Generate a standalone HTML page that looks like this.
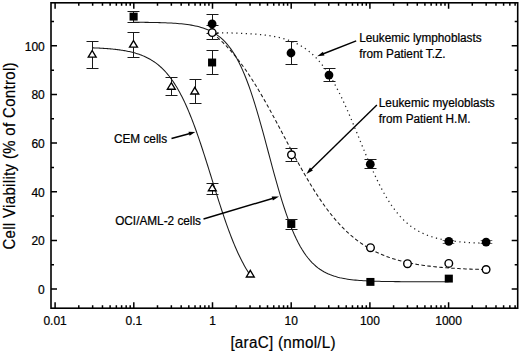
<!DOCTYPE html>
<html><head><meta charset="utf-8"><style>
html,body{margin:0;padding:0;background:#fff;width:520px;height:352px;overflow:hidden}
svg{display:block}
text{font-family:"Liberation Sans",sans-serif;fill:#000;stroke:#000;stroke-width:0.22px}
</style></head><body>
<svg width="520" height="352" viewBox="0 0 520 352">
<rect x="51.0" y="2.8" width="466.70000000000005" height="305.4" fill="none" stroke="#000" stroke-width="1.6"/><path d="M55.10,308.2v-6M55.10,2.8v6M78.79,308.2v-3M78.79,2.8v3M92.65,308.2v-3M92.65,2.8v3M102.48,308.2v-3M102.48,2.8v3M110.11,308.2v-3M110.11,2.8v3M116.34,308.2v-3M116.34,2.8v3M121.61,308.2v-3M121.61,2.8v3M126.17,308.2v-3M126.17,2.8v3M130.20,308.2v-3M130.20,2.8v3M133.80,308.2v-6M133.80,2.8v6M157.49,308.2v-3M157.49,2.8v3M171.35,308.2v-3M171.35,2.8v3M181.18,308.2v-3M181.18,2.8v3M188.81,308.2v-3M188.81,2.8v3M195.04,308.2v-3M195.04,2.8v3M200.31,308.2v-3M200.31,2.8v3M204.87,308.2v-3M204.87,2.8v3M208.90,308.2v-3M208.90,2.8v3M212.50,308.2v-6M212.50,2.8v6M236.19,308.2v-3M236.19,2.8v3M250.05,308.2v-3M250.05,2.8v3M259.88,308.2v-3M259.88,2.8v3M267.51,308.2v-3M267.51,2.8v3M273.74,308.2v-3M273.74,2.8v3M279.01,308.2v-3M279.01,2.8v3M283.57,308.2v-3M283.57,2.8v3M287.60,308.2v-3M287.60,2.8v3M291.20,308.2v-6M291.20,2.8v6M314.89,308.2v-3M314.89,2.8v3M328.75,308.2v-3M328.75,2.8v3M338.58,308.2v-3M338.58,2.8v3M346.21,308.2v-3M346.21,2.8v3M352.44,308.2v-3M352.44,2.8v3M357.71,308.2v-3M357.71,2.8v3M362.27,308.2v-3M362.27,2.8v3M366.30,308.2v-3M366.30,2.8v3M369.90,308.2v-6M369.90,2.8v6M393.59,308.2v-3M393.59,2.8v3M407.45,308.2v-3M407.45,2.8v3M417.28,308.2v-3M417.28,2.8v3M424.91,308.2v-3M424.91,2.8v3M431.14,308.2v-3M431.14,2.8v3M436.41,308.2v-3M436.41,2.8v3M440.97,308.2v-3M440.97,2.8v3M445.00,308.2v-3M445.00,2.8v3M448.60,308.2v-6M448.60,2.8v6M472.29,308.2v-3M472.29,2.8v3M486.15,308.2v-3M486.15,2.8v3M495.98,308.2v-3M495.98,2.8v3M503.61,308.2v-3M503.61,2.8v3M509.84,308.2v-3M509.84,2.8v3M515.11,308.2v-3M515.11,2.8v3M51.0,289.10h6M517.7,289.10h-6M51.0,264.77h3M517.7,264.77h-3M51.0,240.44h6M517.7,240.44h-6M51.0,216.11h3M517.7,216.11h-3M51.0,191.78h6M517.7,191.78h-6M51.0,167.45h3M517.7,167.45h-3M51.0,143.12h6M517.7,143.12h-6M51.0,118.79h3M517.7,118.79h-3M51.0,94.46h6M517.7,94.46h-6M51.0,70.13h3M517.7,70.13h-3M51.0,45.80h6M517.7,45.80h-6M51.0,21.47h3M517.7,21.47h-3" stroke="#000" stroke-width="1.5" fill="none"/><g font-size="12"><text x="55.10" y="324.6" text-anchor="middle">0.01</text><text x="133.80" y="324.6" text-anchor="middle">0.1</text><text x="212.50" y="324.6" text-anchor="middle">1</text><text x="291.20" y="324.6" text-anchor="middle">10</text><text x="369.90" y="324.6" text-anchor="middle">100</text><text x="448.60" y="324.6" text-anchor="middle">1000</text><text x="44.8" y="294.10" text-anchor="end">0</text><text x="44.8" y="245.44" text-anchor="end">20</text><text x="44.8" y="196.78" text-anchor="end">40</text><text x="44.8" y="148.12" text-anchor="end">60</text><text x="44.8" y="99.46" text-anchor="end">80</text><text x="44.8" y="50.80" text-anchor="end">100</text></g><text transform="translate(283.0,348.2) scale(0.93,1)" font-size="16.4" text-anchor="middle" textLength="113.2" lengthAdjust="spacing">[araC] (nmol/L)</text><text transform="translate(14.7,156) rotate(-90) scale(0.9,1)" font-size="16.6" text-anchor="middle" textLength="208" lengthAdjust="spacing">Cell Viability (% of Control)</text><path d="M92.65,47.82 L93.64,47.86 L94.63,47.90 L95.62,47.94 L96.61,47.99 L97.60,48.03 L98.59,48.08 L99.58,48.13 L100.57,48.18 L101.56,48.24 L102.55,48.30 L103.54,48.36 L104.53,48.42 L105.52,48.49 L106.51,48.56 L107.50,48.64 L108.49,48.71 L109.48,48.80 L110.47,48.88 L111.46,48.97 L112.45,49.07 L113.44,49.17 L114.43,49.27 L115.42,49.38 L116.41,49.49 L117.40,49.61 L118.39,49.74 L119.38,49.87 L120.37,50.01 L121.36,50.15 L122.35,50.31 L123.34,50.47 L124.33,50.63 L125.32,50.81 L126.31,50.99 L127.30,51.19 L128.29,51.39 L129.28,51.60 L130.27,51.82 L131.26,52.05 L132.25,52.30 L133.24,52.55 L134.23,52.82 L135.22,53.10 L136.21,53.39 L137.20,53.70 L138.19,54.02 L139.18,54.36 L140.17,54.71 L141.16,55.08 L142.15,55.47 L143.14,55.87 L144.13,56.30 L145.12,56.74 L146.11,57.20 L147.10,57.69 L148.09,58.19 L149.08,58.72 L150.07,59.28 L151.06,59.85 L152.05,60.46 L153.04,61.09 L154.03,61.75 L155.02,62.44 L156.01,63.16 L157.00,63.90 L157.99,64.69 L158.98,65.50 L159.97,66.35 L160.96,67.24 L161.95,68.16 L162.93,69.12 L163.92,70.13 L164.91,71.17 L165.90,72.25 L166.89,73.38 L167.88,74.55 L168.87,75.77 L169.86,77.04 L170.85,78.35 L171.84,79.71 L172.83,81.13 L173.82,82.59 L174.81,84.11 L175.80,85.68 L176.79,87.31 L177.78,89.00 L178.77,90.73 L179.76,92.53 L180.75,94.39 L181.74,96.30 L182.73,98.27 L183.72,100.30 L184.71,102.39 L185.70,104.54 L186.69,106.75 L187.68,109.02 L188.67,111.35 L189.66,113.74 L190.65,116.18 L191.64,118.68 L192.63,121.24 L193.62,123.85 L194.61,126.51 L195.60,129.23 L196.59,131.99 L197.58,134.81 L198.57,137.67 L199.56,140.57 L200.55,143.51 L201.54,146.49 L202.53,149.51 L203.52,152.56 L204.51,155.64 L205.50,158.74 L206.49,161.87 L207.48,165.01 L208.47,168.17 L209.46,171.34 L210.45,174.52 L211.44,177.71 L212.43,180.90 L213.42,184.08 L214.41,187.25 L215.40,190.42 L216.39,193.57 L217.38,196.70 L218.37,199.82 L219.36,202.90 L220.35,205.96 L221.34,208.99 L222.33,211.99 L223.32,214.94 L224.31,217.86 L225.30,220.73 L226.29,223.56 L227.28,226.35 L228.27,229.08 L229.26,231.76 L230.25,234.39 L231.24,236.97 L232.23,239.49 L233.22,241.96 L234.21,244.36 L235.20,246.71 L236.19,249.00 L237.18,251.23 L238.17,253.41 L239.16,255.52 L240.15,257.57 L241.14,259.56 L242.13,261.50 L243.12,263.37 L244.11,265.19 L245.10,266.95 L246.09,268.65 L247.08,270.30 L248.07,271.89 L249.06,273.43 L250.05,274.92" stroke="#1a1a1a" stroke-width="1.05" fill="none"/><path d="M133.80,22.25 L135.78,22.26 L137.76,22.28 L139.74,22.30 L141.72,22.31 L143.70,22.34 L145.68,22.36 L147.66,22.39 L149.64,22.42 L151.62,22.45 L153.60,22.49 L155.58,22.53 L157.56,22.57 L159.54,22.63 L161.52,22.68 L163.50,22.75 L165.48,22.82 L167.46,22.91 L169.44,23.00 L171.42,23.10 L173.40,23.22 L175.38,23.35 L177.36,23.49 L179.34,23.66 L181.32,23.84 L183.30,24.04 L185.28,24.27 L187.26,24.53 L189.24,24.81 L191.22,25.13 L193.20,25.49 L195.18,25.89 L197.16,26.34 L199.14,26.84 L201.12,27.39 L203.10,28.01 L205.08,28.71 L207.06,29.48 L209.04,30.34 L211.02,31.30 L212.99,32.37 L214.97,33.55 L216.95,34.87 L218.93,36.32 L220.91,37.94 L222.89,39.72 L224.87,41.69 L226.85,43.86 L228.83,46.25 L230.81,48.87 L232.79,51.74 L234.77,54.88 L236.75,58.29 L238.73,62.00 L240.71,66.01 L242.69,70.34 L244.67,75.00 L246.65,79.97 L248.63,85.28 L250.61,90.90 L252.59,96.84 L254.57,103.07 L256.55,109.57 L258.53,116.32 L260.51,123.29 L262.49,130.44 L264.47,137.72 L266.45,145.09 L268.43,152.51 L270.41,159.92 L272.39,167.28 L274.37,174.55 L276.35,181.67 L278.33,188.61 L280.31,195.32 L282.29,201.79 L284.27,207.98 L286.25,213.87 L288.23,219.44 L290.21,224.70 L292.19,229.63 L294.17,234.23 L296.15,238.52 L298.13,242.48 L300.11,246.15 L302.09,249.52 L304.07,252.61 L306.05,255.45 L308.03,258.03 L310.01,260.39 L311.99,262.53 L313.97,264.47 L315.95,266.23 L317.93,267.82 L319.91,269.25 L321.89,270.55 L323.87,271.72 L325.85,272.76 L327.83,273.71 L329.81,274.56 L331.79,275.32 L333.77,276.00 L335.75,276.61 L337.73,277.16 L339.71,277.65 L341.69,278.09 L343.67,278.48 L345.65,278.84 L347.63,279.15 L349.61,279.43 L351.59,279.68 L353.57,279.91 L355.55,280.11 L357.53,280.29 L359.51,280.45 L361.49,280.59 L363.47,280.72 L365.45,280.83 L367.43,280.93 L369.41,281.02 L371.38,281.11 L373.36,281.18 L375.34,281.24 L377.32,281.30 L379.30,281.35 L381.28,281.40 L383.26,281.44 L385.24,281.47 L387.22,281.51 L389.20,281.54 L391.18,281.56 L393.16,281.59 L395.14,281.61 L397.12,281.62 L399.10,281.64 L401.08,281.66 L403.06,281.67 L405.04,281.68 L407.02,281.69 L409.00,281.70 L410.98,281.71 L412.96,281.72 L414.94,281.72 L416.92,281.73 L418.90,281.73 L420.88,281.74 L422.86,281.74 L424.84,281.75 L426.82,281.75 L428.80,281.75 L430.78,281.75 L432.76,281.76 L434.74,281.76 L436.72,281.76 L438.70,281.76 L440.68,281.76 L442.66,281.77 L444.64,281.77 L446.62,281.77 L448.60,281.77" stroke="#1a1a1a" stroke-width="1.05" fill="none"/><path d="M212.50,33.42 L214.22,34.80 L215.94,36.23 L217.66,37.71 L219.38,39.25 L221.11,40.84 L222.83,42.49 L224.55,44.19 L226.27,45.95 L227.99,47.77 L229.71,49.65 L231.43,51.59 L233.15,53.59 L234.87,55.65 L236.59,57.77 L238.32,59.96 L240.04,62.20 L241.76,64.51 L243.48,66.87 L245.20,69.30 L246.92,71.78 L248.64,74.32 L250.36,76.92 L252.08,79.58 L253.81,82.29 L255.53,85.06 L257.25,87.88 L258.97,90.74 L260.69,93.66 L262.41,96.62 L264.13,99.62 L265.85,102.66 L267.57,105.74 L269.30,108.86 L271.02,112.00 L272.74,115.17 L274.46,118.37 L276.18,121.59 L277.90,124.82 L279.62,128.07 L281.34,131.33 L283.06,134.59 L284.78,137.85 L286.51,141.12 L288.23,144.37 L289.95,147.62 L291.67,150.85 L293.39,154.07 L295.11,157.27 L296.83,160.44 L298.55,163.58 L300.27,166.69 L302.00,169.77 L303.72,172.81 L305.44,175.82 L307.16,178.77 L308.88,181.69 L310.60,184.55 L312.32,187.37 L314.04,190.13 L315.76,192.84 L317.49,195.50 L319.21,198.10 L320.93,200.64 L322.65,203.12 L324.37,205.55 L326.09,207.91 L327.81,210.22 L329.53,212.46 L331.25,214.64 L332.97,216.76 L334.70,218.82 L336.42,220.82 L338.14,222.75 L339.86,224.63 L341.58,226.45 L343.30,228.21 L345.02,229.91 L346.74,231.56 L348.46,233.15 L350.19,234.69 L351.91,236.17 L353.63,237.60 L355.35,238.97 L357.07,240.30 L358.79,241.58 L360.51,242.81 L362.23,243.99 L363.95,245.13 L365.67,246.23 L367.40,247.28 L369.12,248.29 L370.84,249.26 L372.56,250.19 L374.28,251.08 L376.00,251.94 L377.72,252.76 L379.44,253.55 L381.16,254.30 L382.89,255.03 L384.61,255.72 L386.33,256.38 L388.05,257.02 L389.77,257.63 L391.49,258.21 L393.21,258.77 L394.93,259.30 L396.65,259.81 L398.38,260.30 L400.10,260.76 L401.82,261.21 L403.54,261.63 L405.26,262.04 L406.98,262.43 L408.70,262.80 L410.42,263.15 L412.14,263.49 L413.86,263.81 L415.59,264.12 L417.31,264.42 L419.03,264.70 L420.75,264.97 L422.47,265.22 L424.19,265.47 L425.91,265.70 L427.63,265.93 L429.35,266.14 L431.08,266.34 L432.80,266.53 L434.52,266.72 L436.24,266.89 L437.96,267.06 L439.68,267.22 L441.40,267.38 L443.12,267.52 L444.84,267.66 L446.56,267.79 L448.29,267.92 L450.01,268.04 L451.73,268.15 L453.45,268.26 L455.17,268.37 L456.89,268.47 L458.61,268.56 L460.33,268.65 L462.05,268.74 L463.78,268.82 L465.50,268.90 L467.22,268.97 L468.94,269.04 L470.66,269.11 L472.38,269.18 L474.10,269.24 L475.82,269.30 L477.54,269.35 L479.27,269.41 L480.99,269.46 L482.71,269.50 L484.43,269.55 L486.15,269.59" stroke="#1a1a1a" stroke-width="1.05" fill="none" stroke-dasharray="3.6 2.4"/><path d="M212.50,32.66 L214.22,32.68 L215.94,32.70 L217.66,32.72 L219.38,32.75 L221.11,32.78 L222.83,32.80 L224.55,32.84 L226.27,32.87 L227.99,32.91 L229.71,32.95 L231.43,32.99 L233.15,33.04 L234.87,33.09 L236.59,33.15 L238.32,33.21 L240.04,33.27 L241.76,33.34 L243.48,33.42 L245.20,33.50 L246.92,33.59 L248.64,33.69 L250.36,33.79 L252.08,33.91 L253.81,34.03 L255.53,34.16 L257.25,34.30 L258.97,34.46 L260.69,34.63 L262.41,34.81 L264.13,35.00 L265.85,35.21 L267.57,35.44 L269.30,35.69 L271.02,35.95 L272.74,36.24 L274.46,36.55 L276.18,36.89 L277.90,37.25 L279.62,37.64 L281.34,38.06 L283.06,38.52 L284.78,39.01 L286.51,39.54 L288.23,40.10 L289.95,40.72 L291.67,41.38 L293.39,42.08 L295.11,42.85 L296.83,43.66 L298.55,44.54 L300.27,45.49 L302.00,46.50 L303.72,47.58 L305.44,48.74 L307.16,49.98 L308.88,51.31 L310.60,52.73 L312.32,54.24 L314.04,55.84 L315.76,57.56 L317.49,59.37 L319.21,61.30 L320.93,63.35 L322.65,65.51 L324.37,67.80 L326.09,70.20 L327.81,72.74 L329.53,75.40 L331.25,78.20 L332.97,81.12 L334.70,84.17 L336.42,87.34 L338.14,90.64 L339.86,94.06 L341.58,97.60 L343.30,101.24 L345.02,104.99 L346.74,108.83 L348.46,112.76 L350.19,116.77 L351.91,120.83 L353.63,124.96 L355.35,129.12 L357.07,133.31 L358.79,137.52 L360.51,141.73 L362.23,145.92 L363.95,150.10 L365.67,154.23 L367.40,158.32 L369.12,162.34 L370.84,166.29 L372.56,170.16 L374.28,173.94 L376.00,177.61 L377.72,181.18 L379.44,184.63 L381.16,187.97 L382.89,191.18 L384.61,194.27 L386.33,197.23 L388.05,200.06 L389.77,202.76 L391.49,205.33 L393.21,207.77 L394.93,210.09 L396.65,212.29 L398.38,214.37 L400.10,216.33 L401.82,218.18 L403.54,219.92 L405.26,221.56 L406.98,223.10 L408.70,224.54 L410.42,225.89 L412.14,227.16 L413.86,228.34 L415.59,229.45 L417.31,230.48 L419.03,231.44 L420.75,232.34 L422.47,233.17 L424.19,233.95 L425.91,234.68 L427.63,235.35 L429.35,235.97 L431.08,236.55 L432.80,237.09 L434.52,237.59 L436.24,238.06 L437.96,238.49 L439.68,238.89 L441.40,239.26 L443.12,239.60 L444.84,239.92 L446.56,240.21 L448.29,240.49 L450.01,240.74 L451.73,240.97 L453.45,241.19 L455.17,241.39 L456.89,241.57 L458.61,241.75 L460.33,241.90 L462.05,242.05 L463.78,242.19 L465.50,242.31 L467.22,242.43 L468.94,242.53 L470.66,242.63 L472.38,242.72 L474.10,242.81 L475.82,242.89 L477.54,242.96 L479.27,243.02 L480.99,243.09 L482.71,243.14 L484.43,243.20 L486.15,243.24" stroke="#222" stroke-width="1.25" fill="none" stroke-dasharray="1.25 3.5"/><path d="M86.50,41.50h12M92.50,41.50V68.50M86.50,68.50h12M127.50,32.50h12M133.50,32.50V57.50M127.50,57.50h12M165.50,77.50h12M171.50,77.50V95.50M165.50,95.50h12M189.50,79.50h12M195.50,79.50V103.50M189.50,103.50h12M206.50,183.50h12M212.50,183.50V194.50M206.50,194.50h12M127.50,11.50h12M133.50,11.50V22.50M127.50,22.50h12M206.50,50.50h12M212.50,50.50V74.50M206.50,74.50h12M285.50,219.50h12M291.50,219.50V229.50M285.50,229.50h12M206.50,25.50h12M212.50,25.50V39.50M206.50,39.50h12M285.50,148.50h12M291.50,148.50V161.50M285.50,161.50h12M206.50,14.50h12M212.50,14.50V33.50M206.50,33.50h12M285.50,41.50h12M291.50,41.50V64.50M285.50,64.50h12M323.50,68.50h12M329.50,68.50V81.50M323.50,81.50h12M364.50,159.50h12M370.50,159.50V168.50M364.50,168.50h12" stroke="#1a1a1a" stroke-width="1.0" fill="none"/><path d="M442.70,240.50h11.6M448.50,240.50V243.50M442.70,243.50h11.6M480.70,240.50h11.6M486.50,240.50V243.50M480.70,243.50h11.6" stroke="#666" stroke-width="1" fill="none"/><path d="M92.20,50.50L96.15,57.05H88.25Z" fill="#fff" stroke="#000" stroke-width="1.35"/><path d="M133.50,40.60L137.45,47.15H129.55Z" fill="#fff" stroke="#000" stroke-width="1.35"/><path d="M171.30,82.70L175.25,89.25H167.35Z" fill="#fff" stroke="#000" stroke-width="1.35"/><path d="M194.80,87.40L198.75,93.95H190.85Z" fill="#fff" stroke="#000" stroke-width="1.35"/><path d="M212.30,184.20L216.25,190.75H208.35Z" fill="#fff" stroke="#000" stroke-width="1.35"/><path d="M250.30,270.40L254.25,276.95H246.35Z" fill="#fff" stroke="#000" stroke-width="1.35"/><rect x="129.55" y="12.65" width="8.1" height="7.9" fill="#000"/><rect x="208.05" y="58.55" width="8.1" height="7.9" fill="#000"/><rect x="287.20" y="220.05" width="8.1" height="7.9" fill="#000"/><rect x="366.35" y="277.95" width="8.1" height="7.9" fill="#000"/><rect x="444.75" y="274.65" width="8.1" height="7.9" fill="#000"/><circle cx="212.20" cy="32.60" r="3.8" fill="#fff" stroke="#000" stroke-width="1.4"/><circle cx="291.50" cy="154.80" r="3.8" fill="#fff" stroke="#000" stroke-width="1.4"/><circle cx="370.50" cy="247.70" r="3.8" fill="#fff" stroke="#000" stroke-width="1.4"/><circle cx="407.50" cy="263.70" r="3.8" fill="#fff" stroke="#000" stroke-width="1.4"/><circle cx="448.80" cy="263.40" r="3.8" fill="#fff" stroke="#000" stroke-width="1.4"/><circle cx="486.10" cy="269.50" r="3.8" fill="#fff" stroke="#000" stroke-width="1.4"/><circle cx="212.10" cy="23.90" r="4.4" fill="#000"/><circle cx="291.00" cy="53.00" r="4.4" fill="#000"/><circle cx="329.00" cy="75.10" r="4.4" fill="#000"/><circle cx="370.30" cy="164.20" r="4.4" fill="#000"/><circle cx="448.80" cy="241.40" r="4.4" fill="#000"/><circle cx="486.10" cy="242.10" r="4.4" fill="#000"/><path d="M356.20,40.80L322.78,54.00" stroke="#000" stroke-width="1.4" fill="none"/><path d="M317.20,56.20L322.94,51.68L324.48,55.58Z" fill="#000"/><path d="M376.90,105.00L310.69,169.80" stroke="#000" stroke-width="1.4" fill="none"/><path d="M306.40,174.00L309.93,167.60L312.87,170.60Z" fill="#000"/><path d="M171.50,138.50L189.99,133.45" stroke="#000" stroke-width="1.4" fill="none"/><path d="M195.30,132.00L189.58,135.74L188.48,131.69Z" fill="#000"/><path d="M203.50,219.00L273.25,198.21" stroke="#000" stroke-width="1.4" fill="none"/><path d="M279.00,196.50L272.89,200.51L271.69,196.49Z" fill="#000"/><text transform="translate(359.2,42.4) scale(1,1.07)" font-size="11.8">Leukemic lymphoblasts</text><text transform="translate(359.2,58.0) scale(1,1.07)" font-size="11.8">from Patient T.Z.</text><text transform="translate(378.8,107.3) scale(1,1.07)" font-size="11.8">Leukemic myeloblasts</text><text transform="translate(378.8,123.3) scale(1,1.07)" font-size="11.8">from Patient H.M.</text><text transform="translate(114,143.3) scale(1,1.09)" font-size="11.8">CEM cells</text><text transform="translate(115.2,225.3) scale(1,1.06)" font-size="11.8">OCI/AML-2 cells</text>
</svg>
</body></html>
